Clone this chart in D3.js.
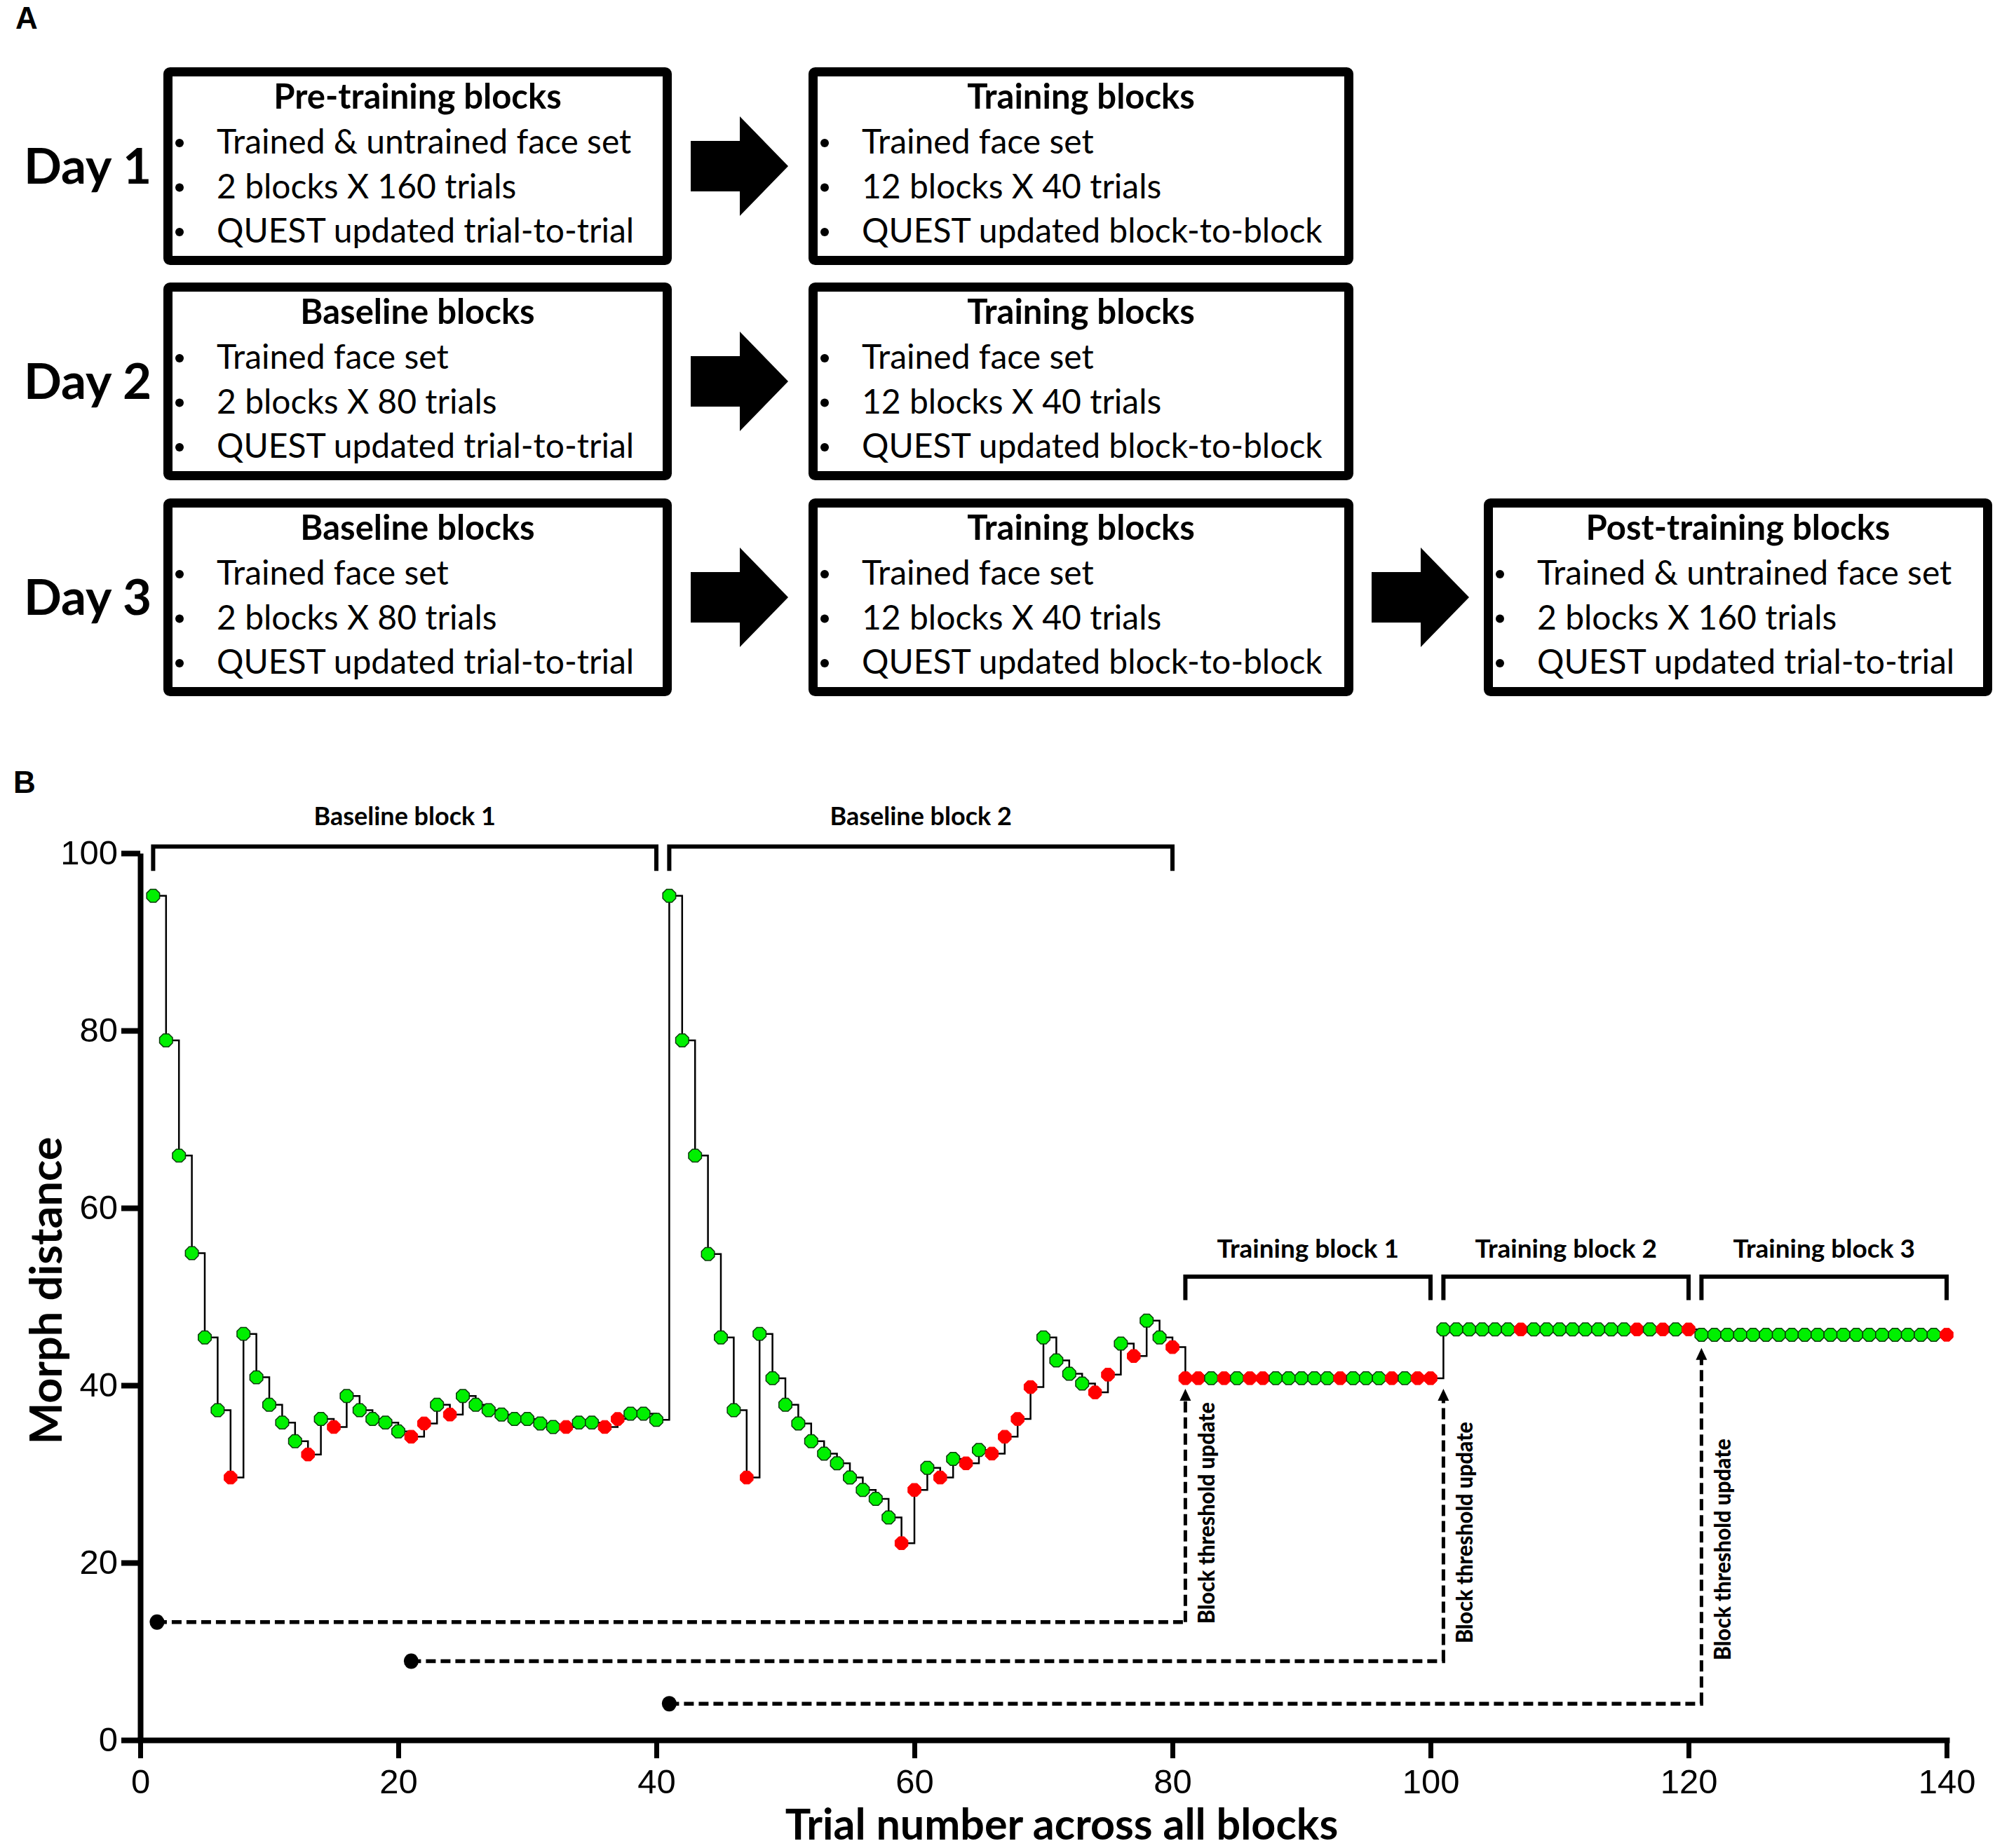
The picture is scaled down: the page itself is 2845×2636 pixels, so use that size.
<!DOCTYPE html>
<html><head><meta charset="utf-8">
<script src="https://cdn.jsdelivr.net/npm/d3@7"></script>
<style>body{margin:0;background:#fff}svg{display:block}</style>
</head><body>
<script>
// ---------- Panel A content ----------
const dayLabels = ["Day 1", "Day 2", "Day 3"];
const leftTitles = ["Pre-training blocks", "Baseline blocks", "Baseline blocks"];
const leftBullets = [
  ["Trained & untrained face set", "2 blocks X 160 trials", "QUEST updated trial-to-trial"],
  ["Trained face set", "2 blocks X 80 trials", "QUEST updated trial-to-trial"],
  ["Trained face set", "2 blocks X 80 trials", "QUEST updated trial-to-trial"]
];
const midTitle = "Training blocks";
const midBullets = ["Trained face set", "12 blocks X 40 trials", "QUEST updated block-to-block"];
const postTitle = "Post-training blocks";
const postBullets = ["Trained & untrained face set", "2 blocks X 160 trials", "QUEST updated trial-to-trial"];

// ---------- Panel B data ----------
const baseline1Values = [95.2,78.9,65.9,54.9,45.4,37.2,29.6,45.8,40.9,37.8,35.8,33.7,32.2,36.2,35.3,38.8,37.2,36.2,35.8,34.8,
                         34.2,35.7,37.8,36.7,38.8,37.8,37.2,36.7,36.2,36.2,35.7,35.3,35.3,35.8,35.8,35.3,36.2,36.8,36.8,36.1];
const baseline2Values = [95.2,78.9,65.9,54.8,45.4,37.2,29.6,45.8,40.8,37.8,35.7,33.7,32.3,31.2,29.6,28.2,27.2,25.1,22.2,28.2,
                         30.7,29.6,31.7,31.2,32.7,32.3,34.2,36.2,39.8,45.4,42.8,41.3,40.2,39.2,41.2,44.7,43.3,47.3,45.4,44.3];
const training1Values = [40.8,40.8,40.8,40.8,40.8,40.8,40.8,40.8,40.8,40.8,40.8,40.8,40.8,40.8,40.8,40.8,40.8,40.8,40.8,40.8];
const training2Values = [46.3,46.3,46.3,46.3,46.3,46.3,46.3,46.3,46.3,46.3,46.3,46.3,46.3,46.3,46.3,46.3,46.3,46.3,46.3,46.3];
const training3Values = [45.7,45.7,45.7,45.7,45.7,45.7,45.7,45.7,45.7,45.7,45.7,45.7,45.7,45.7,45.7,45.7,45.7,45.7,45.7,45.7];
// 1 = correct (green), 0 = incorrect (red)
const baseline1Correct = [1,1,1,1,1,1,0,1,1,1,1,1,0,1,0,1,1,1,1,1, 0,0,1,0,1,1,1,1,1,1,1,1,0,1,1,0,0,1,1,1];
const baseline2Correct = [1,1,1,1,1,1,0,1,1,1,1,1,1,1,1,1,1,1,0,0, 1,0,1,0,1,0,0,0,0,1,1,1,1,0,0,1,0,1,1,0];
const training1Correct = [0,0,1,0,1,0,0,1,1,1,1,1,0,1,1,1,0,1,0,0];
const training2Correct = [1,1,1,1,1,1,0,1,1,1,1,1,1,1,1,0,1,0,1,0];
const training3Correct = [1,1,1,1,1,1,1,1,1,1,1,1,1,1,1,1,1,1,1,0];

const blockLabels = ["Baseline block 1", "Baseline block 2", "Training block 1", "Training block 2", "Training block 3"];
const blockStart = [1, 41, 81, 101, 121];
const blockEnd = [40, 80, 100, 120, 140];

const xTicks = [0, 20, 40, 60, 80, 100, 120, 140];
const yTicks = [0, 20, 40, 60, 80, 100];

const updateFrom = [1.3, 21, 41];
const updateTo = [81, 101, 121];
const updateLevel = [13.3, 8.9, 4.1];
const updateTip = [39.6, 39.6, 44.2];
const updateLabelStart = [13.1, 10.9, 9.0];
const updateLabel = "Block threshold update";

// ---------- build ----------
const W = 2845, H = 2636;
const svg = d3.select("body").append("svg").attr("width", W).attr("height", H)
  .attr("viewBox", `0 0 ${W} ${H}`);
svg.append("rect").attr("width", W).attr("height", H).attr("fill", "#fff");

const calibri = "Lato, 'Open Sans', sans-serif";
const arial = "'Liberation Sans', Arial, sans-serif";

// Panel letters
svg.append("text").attr("x", 22).attr("y", 41).text("A")
  .attr("font-family", arial).attr("font-weight", "bold").attr("font-size", 44);
svg.append("text").attr("x", 19).attr("y", 1131).text("B")
  .attr("font-family", arial).attr("font-weight", "bold").attr("font-size", 44);

// ---------- Panel A ----------
const rowTops = [96, 403, 711];
const boxH = 282;
const colL = [233, 958], colM = [1153, 1930], colR = [2116, 2841];
const bw = 13;

function drawBox(g, x0, x1, top, title, bullets) {
  g.append("rect").attr("x", x0 + bw / 2).attr("y", top + bw / 2)
    .attr("width", x1 - x0 - bw).attr("height", boxH - bw)
    .attr("rx", 3).attr("fill", "#fff").attr("stroke", "#000").attr("stroke-width", bw);
  g.append("text").attr("x", (x0 + x1) / 2).attr("y", top + 59)
    .attr("text-anchor", "middle").attr("font-family", calibri).attr("font-weight", "bold")
    .attr("font-size", 49).text(title);
  bullets.forEach((b, i) => {
    const yb = top + 123 + i * 63.5;
    g.append("circle").attr("cx", x0 + 23).attr("cy", yb - 15).attr("r", 6).attr("fill", "#000");
    g.append("text").attr("x", x0 + 76).attr("y", yb).attr("font-family", calibri)
      .attr("font-size", 48).text(b);
  });
}
function drawArrow(g, x0, cy) {
  const p = d3.path();
  p.moveTo(x0, cy - 36); p.lineTo(x0 + 70, cy - 36); p.lineTo(x0 + 70, cy - 71);
  p.lineTo(x0 + 139, cy); p.lineTo(x0 + 70, cy + 71); p.lineTo(x0 + 70, cy + 36);
  p.lineTo(x0, cy + 36); p.closePath();
  g.append("path").attr("d", p.toString()).attr("fill", "#000");
}

const gA = svg.append("g");
rowTops.forEach((top, i) => {
  gA.append("text").attr("x", 34).attr("y", top + boxH / 2 + 25)
    .attr("font-family", calibri).attr("font-weight", "bold").attr("font-size", 71).text(dayLabels[i]);
  drawBox(gA, colL[0], colL[1], top, leftTitles[i], leftBullets[i]);
  drawArrow(gA, 985, top + boxH / 2);
  drawBox(gA, colM[0], colM[1], top, midTitle, midBullets);
  if (i === 2) {
    drawArrow(gA, 1956, top + boxH / 2);
    drawBox(gA, colR[0], colR[1], top, postTitle, postBullets);
  }
});

// ---------- Panel B ----------
const x = d3.scaleLinear().domain([0, 140]).range([200, 2776]);
const y = d3.scaleLinear().domain([0, 100]).range([2482, 1217]);

const allValues = [].concat(baseline1Values, baseline2Values, training1Values, training2Values, training3Values);
const allCorrect = [].concat(baseline1Correct, baseline2Correct, training1Correct, training2Correct, training3Correct);
const data = allValues.map((v, i) => ({ t: i + 1, v: v, c: allCorrect[i] }));

const gB = svg.append("g");

// Axes
const yAxis = d3.axisLeft(y).tickValues(yTicks).tickSize(27).tickSizeOuter(0).tickPadding(5);
const gy = gB.append("g").attr("transform", `translate(${x(0)},0)`).call(yAxis);
gy.select(".domain").attr("stroke-width", 8).attr("stroke", "#000");
gy.selectAll(".tick line").attr("stroke-width", 8).attr("stroke", "#000");
gy.selectAll(".tick text").attr("font-family", arial).attr("font-size", 49).attr("fill", "#000");

const xAxis = d3.axisBottom(x).tickValues(xTicks).tickSize(26).tickSizeOuter(0).tickPadding(15);
const gx = gB.append("g").attr("transform", `translate(0,${y(0)})`).call(xAxis);
gx.select(".domain").attr("stroke-width", 8).attr("stroke", "#000").attr("stroke-linecap", "square");
gx.selectAll(".tick line").attr("stroke-width", 7).attr("stroke", "#000");
gx.selectAll(".tick text").attr("font-family", arial).attr("font-size", 49).attr("fill", "#000");

// Axis titles
gB.append("text").attr("transform", `translate(88,1841) rotate(-90)`).attr("text-anchor", "middle")
  .attr("font-family", calibri).attr("font-weight", "bold").attr("font-size", 63).text("Morph distance");
gB.append("text").attr("x", 1514).attr("y", 2624).attr("text-anchor", "middle")
  .attr("font-family", calibri).attr("font-weight", "bold").attr("font-size", 61)
  .text("Trial number across all blocks");

// Brackets
blockLabels.forEach((lab, i) => {
  const isBase = i < 2;
  const top = isBase ? 100.75 : 52.25;
  const leg = isBase ? 98.0 : 49.6;
  const labY = isBase ? 103.2 : 54.4;
  const p = d3.path();
  p.moveTo(x(blockStart[i]), y(leg)); p.lineTo(x(blockStart[i]), y(top));
  p.lineTo(x(blockEnd[i]), y(top)); p.lineTo(x(blockEnd[i]), y(leg));
  gB.append("path").attr("d", p.toString()).attr("fill", "none").attr("stroke", "#000").attr("stroke-width", 6);
  gB.append("text").attr("x", (x(blockStart[i]) + x(blockEnd[i])) / 2).attr("y", y(labY))
    .attr("text-anchor", "middle").attr("font-family", calibri).attr("font-weight", "bold")
    .attr("font-size", isBase ? 36 : 37).text(lab);
});

// Threshold-update connectors
updateFrom.forEach((f, i) => {
  const arrowH = 17;
  const h = d3.path();
  h.moveTo(x(f), y(updateLevel[i])); h.lineTo(x(updateTo[i]) + 2.5, y(updateLevel[i]));
  gB.append("path").attr("d", h.toString()).attr("fill", "none").attr("stroke", "#000")
    .attr("stroke-width", 5.5).attr("stroke-dasharray", "14,7");
  const v = d3.path();
  v.moveTo(x(updateTo[i]), y(updateLevel[i])); v.lineTo(x(updateTo[i]), y(updateTip[i]) + arrowH - 2);
  gB.append("path").attr("d", v.toString()).attr("fill", "none").attr("stroke", "#000")
    .attr("stroke-width", 5).attr("stroke-dasharray", "16,7");
  const a = d3.path();
  const ax = x(updateTo[i]), ay = y(updateTip[i]);
  a.moveTo(ax, ay); a.lineTo(ax + 8, ay + arrowH); a.lineTo(ax - 8, ay + arrowH); a.closePath();
  gB.append("path").attr("d", a.toString()).attr("fill", "#000");
  gB.append("ellipse").attr("cx", x(f)).attr("cy", y(updateLevel[i])).attr("rx", 10.5).attr("ry", 11).attr("fill", "#000");
  gB.append("text").attr("transform", `translate(${x(updateTo[i]) + 42},${y(updateLabelStart[i])}) rotate(-90)`)
    .attr("font-family", calibri).attr("font-weight", 900).attr("font-size", 32)
    .attr("textLength", 316).attr("lengthAdjust", "spacingAndGlyphs").text(updateLabel);
});

// Step line
const line = d3.line().x(d => x(d.t)).y(d => y(d.v)).curve(d3.curveStepAfter);
gB.append("path").datum(data).attr("d", line).attr("fill", "none").attr("stroke", "#000").attr("stroke-width", 2.5);

// Octagon markers
const octR = 10;
const octagon = d3.line()(d3.range(8).map(k => {
  const a = Math.PI / 8 + k * Math.PI / 4;
  return [octR * Math.cos(a), octR * Math.sin(a)];
})) + "Z";
gB.selectAll(".pt").data(data).enter().append("path").attr("class", "pt")
  .attr("d", octagon)
  .attr("transform", d => `translate(${x(d.t)},${y(d.v)})`)
  .attr("fill", d => d.c ? "#00f000" : "#ff0000")
  .attr("stroke", d => d.c ? "#0a3a0a" : "#ff0000")
  .attr("stroke-width", d => d.c ? 1.5 : 1);
</script>
</body></html>
